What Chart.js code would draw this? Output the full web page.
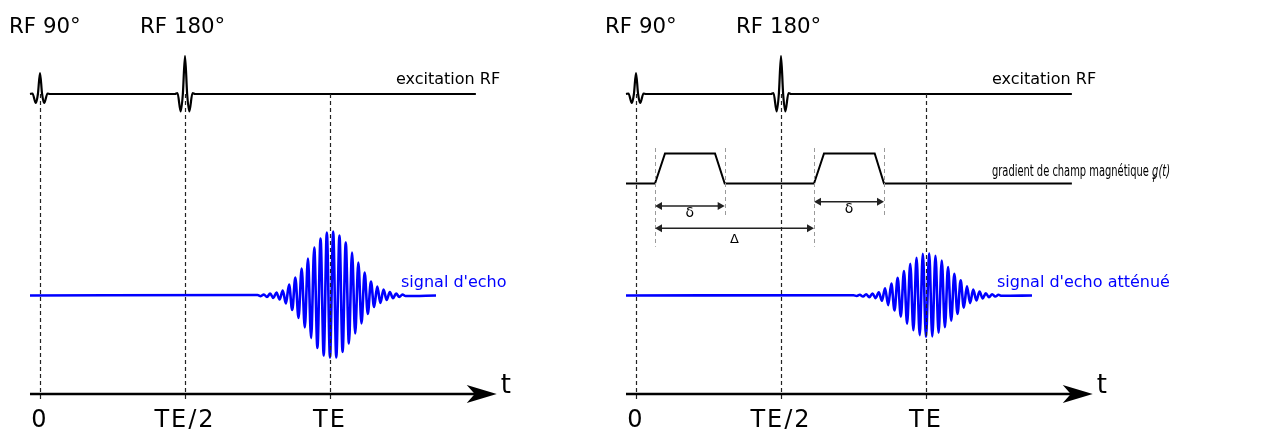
<!DOCTYPE html>
<html><head><meta charset="utf-8">
<script src="https://cdn.jsdelivr.net/npm/chart.js@4.4.1/dist/chart.umd.min.js"></script>
<style>
html,body{margin:0;padding:0;background:#fff;width:1272px;height:429px;overflow:hidden}
.panel{position:absolute;top:0;height:429px}
canvas{display:block}
</style></head><body>
<div class="panel" style="left:0;width:596px"><canvas id="c1" width="596" height="429"></canvas></div>
<div class="panel" style="left:596px;width:676px"><canvas id="c2" width="676" height="429"></canvas></div>
<script>
// ---------- data (time unit: TE = 100) ----------
const tickTimes  = [0, 50, 100];
const tickLabels = ['0', 'TE/2', 'TE'];
const pulseTimes  = [0, 50];
const pulseLabels = ['RF 90°', 'RF 180°'];

// RF excitation trace (90° then 180° pulse)
const rfTimes = [-3.45, -2.59, -1.45, -0.72, 0, 0.72, 1.45, 2.59, 3.45,
                 46.55, 47.41, 48.52, 49.26, 50, 50.74, 51.48, 52.59, 53.45, 150.3];
const rfAmp   = [0, 0.5, -9, 0, 21, 0, -9, 0.5, 0,
                 0, 1, -17.5, 0, 38, 0, -17.5, 1, 0, 0];

// echo signal: successive extrema
const echoTimes = [75.02,76.11,77.19,78.28,79.37,80.45,81.54,82.62,83.71,84.80,85.88,86.97,
                   88.05,89.14,90.23,91.31,92.40,93.48,94.57,95.66,96.74,97.83,98.91,100.00,
                   101.09,102.17,103.26,104.34,105.43,106.52,107.60,108.69,109.77,110.86,111.95,113.03,
                   114.12,115.20,116.29,117.38,118.46,119.55,120.63,121.72,122.81,123.89,124.98,126.06];
const echoAmp = [0.5,-0.7,1,-1.5,2,-2.5,3,-4,5,-8,11,-14.5,
                 18,-22.5,27,-32,37,-42.5,48,-52.5,57,-60,63,-62,
                 64,-62,60,-56.5,53,-48,43,-38,33,-28,23,-18.5,
                 14,-11.5,9,-7.5,6,-4.5,3.5,-2.7,2,-1.5,1,-0.5];
const echoAttAmp = [0.3,-0.5,0.7,-1.0,1.3,-1.7,2.0,-2.6,3.3,-5.3,7.3,-9.6,
                    11.9,-14.9,17.8,-21.1,24.4,-28.1,31.7,-34.7,37.6,-39.6,41.6,-41.5,
                    42.2,-40.9,39.6,-37.3,35.0,-31.7,28.4,-25.1,21.8,-18.5,15.2,-12.2,
                    9.2,-7.6,5.9,-5.0,4.0,-3.0,2.3,-1.8,1.3,-1.0,0.7,-0.3];
const echoLineStart = -3.45, echoLineEnd = 136.55;

// magnetic field gradient g(t): two trapezoidal lobes
const gradTimes = [-3.45, 6.55, 10, 27.24, 30.59, 61.38, 64.83, 82.31, 85.52, 150.3];
const gradLevel = [0, 0, 1, 1, 0, 0, 1, 1, 0, 0];
const smallDeltas = [[6.55, 30.59], [61.38, 85.52]];   // δ
const bigDelta = [6.55, 61.38];                         // Δ
const axisStart = -3.45, axisEnd = 157.5;

// ---------- layout ----------
const PX_PER_T = 2.9, ORIGIN_PX = 40, H = 429;
const ROW_RF = 335, ROW_GRAD = 245.5, GRAD_H = 30, ROW_ECHO = 133.5, ROW_AXIS = 35;
const BLUE = '#0000ff';
const FONT = '"DejaVu Sans", sans-serif';
const FONT_C = '"DejaVu Sans Condensed", "DejaVu Sans", sans-serif';

function text(ctx, s, x, y, size, opts = {}) {
  ctx.save();
  ctx.font = (opts.style || '') + ' ' + size + 'px ' + (opts.family || FONT);
  ctx.fillStyle = opts.color || '#000';
  ctx.textAlign = opts.align || 'left';
  ctx.textBaseline = 'alphabetic';
  if ('letterSpacing' in ctx) ctx.letterSpacing = (opts.ls || 0) + 'px';
  const sx = opts.sx || 1;
  ctx.translate(x, y); ctx.scale(sx, 1);
  ctx.fillText(s, 0, 0);
  const w = ctx.measureText(s).width * sx;
  ctx.restore();
  return w;
}
function measure(ctx, s, size, style, family) {
  ctx.save(); ctx.font = (style || '') + ' ' + size + 'px ' + (family || FONT);
  const w = ctx.measureText(s).width; ctx.restore(); return w;
}
function arrowHead(ctx, x, y, dir, len, half) {
  ctx.beginPath(); ctx.moveTo(x, y); ctx.lineTo(x - dir * len, y - half);
  ctx.lineTo(x - dir * len, y + half); ctx.closePath(); ctx.fill();
}

const diagram = {
  id: 'diagram',
  afterDatasetsDraw(chart, args, o) {
    const ctx = chart.ctx, xs = chart.scales.x, ys = chart.scales.y;
    const X = t => xs.getPixelForValue(t), Y = v => ys.getPixelForValue(v);
    ctx.save();
    // gradient edge markers + δ / Δ arrows
    if (o.gradient) {
      ctx.setLineDash([4, 3]); ctx.lineWidth = 1; ctx.strokeStyle = '#9a9a9a';
      smallDeltas.forEach(([a, b]) => {
        [[a, 182.3], [b, 212.3]].forEach(([t, bot]) => {
          const x = Math.round(X(t)) + 0.5;
          ctx.beginPath(); ctx.moveTo(x, Y(281)); ctx.lineTo(x, Y(bot)); ctx.stroke();
        });
      });
      ctx.setLineDash([]);
      ctx.strokeStyle = '#222'; ctx.fillStyle = '#222'; ctx.lineWidth = 1.6;
      const rows = [223, 227.3];
      smallDeltas.forEach(([a, b], i) => {
        const y = Y(rows[i]), x1 = X(a), x2 = X(b);
        ctx.beginPath(); ctx.moveTo(x1 + 3, y); ctx.lineTo(x2 - 3, y); ctx.stroke();
        arrowHead(ctx, x1, y, -1, 7, 4); arrowHead(ctx, x2, y, 1, 7, 4);
        text(ctx, 'δ', (x1 + x2) / 2, y + 11, 14, {align: 'center'});
      });
      const yD = Y(200.7), d1 = X(bigDelta[0]), d2 = X(bigDelta[1]);
      ctx.beginPath(); ctx.moveTo(d1 + 3, yD); ctx.lineTo(d2 - 3, yD); ctx.stroke();
      arrowHead(ctx, d1, yD, -1, 7, 4); arrowHead(ctx, d2, yD, 1, 7, 4);
      text(ctx, 'Δ', (d1 + d2) / 2, yD + 14.5, 13, {align: 'center'});
    }
    // time markers
    ctx.setLineDash([4, 3]); ctx.lineWidth = 1.2; ctx.strokeStyle = '#222';
    tickTimes.forEach(t => {
      const x = Math.round(X(t)) + 0.5;
      ctx.beginPath(); ctx.moveTo(x, Y(ROW_RF)); ctx.lineTo(x, Y(ROW_AXIS - 6)); ctx.stroke();
    });
    ctx.setLineDash([]);
    // time axis with arrow
    const ya = Y(ROW_AXIS), xa0 = X(axisStart), xa1 = X(axisEnd);
    ctx.strokeStyle = '#000'; ctx.fillStyle = '#000'; ctx.lineWidth = 2.4;
    ctx.beginPath(); ctx.moveTo(xa0, ya); ctx.lineTo(xa1 - 20, ya); ctx.stroke();
    ctx.beginPath(); ctx.moveTo(xa1, ya); ctx.lineTo(xa1 - 30, ya - 9);
    ctx.lineTo(xa1 - 22, ya); ctx.lineTo(xa1 - 30, ya + 9); ctx.closePath(); ctx.fill();
    text(ctx, 't', xa1 + 9, ya - 1, 26, {align: 'center'});
    tickTimes.forEach((t, i) => text(ctx, tickLabels[i], X(t), 427, 24, {align: 'center', ls: 2}));
    // pulse labels
    const offs = [-31, -45];
    pulseTimes.forEach((t, i) => text(ctx, pulseLabels[i], X(t) + offs[i], 33, 22, {ls: 0, sx: 0.97}));
    // trace labels
    text(ctx, 'excitation RF', 396, 84, 16);
    text(ctx, o.echoLabel, 401, 287, 16, {color: BLUE});
    if (o.gradient) {
      const main = 'gradient de champ magnétique ';
      const natural = measure(ctx, main, 16, '', FONT_C) + measure(ctx, 'g(t)', 16, 'italic', FONT_C);
      const sx = 178 / natural;
      let x = 396;
      x += text(ctx, main, x, 176, 16, {sx, family: FONT_C});
      x += text(ctx, 'g', x, 176, 16, {style: 'italic', sx, family: FONT_C});
      text(ctx, 'r', x - 6, 182, 10, {style: 'italic', family: FONT_C});
      text(ctx, '(t)', x, 176, 16, {style: 'italic', sx, family: FONT_C});
    }
    ctx.restore();
  }
};

function pts(ts, vs, base, gain) { return ts.map((t, i) => ({x: t, y: base + gain * vs[i]})); }

function makePanel(id, width, amps, label, gradient) {
  const xMin = -ORIGIN_PX / PX_PER_T;
  const datasets = [
    {data: pts(rfTimes, rfAmp, ROW_RF, 1), borderColor: '#000', borderWidth: 2.2,
     cubicInterpolationMode: 'monotone'},
    {data: [{x: echoLineStart, y: ROW_ECHO}, ...pts(echoTimes, amps, ROW_ECHO, 1), {x: echoLineEnd, y: ROW_ECHO}],
     borderColor: BLUE, borderWidth: 2.6, cubicInterpolationMode: 'monotone'}
  ];
  if (gradient) datasets.push({data: pts(gradTimes, gradLevel, ROW_GRAD, GRAD_H),
                               borderColor: '#000', borderWidth: 2, tension: 0});
  datasets.forEach(d => Object.assign(d, {pointRadius: 0, fill: false, clip: false}));
  new Chart(document.getElementById(id), {
    type: 'line',
    data: {datasets},
    plugins: [diagram],
    options: {
      responsive: false, animation: false, events: [],
      layout: {padding: 0},
      scales: {
        x: {type: 'linear', display: false, min: xMin, max: xMin + width / PX_PER_T},
        y: {type: 'linear', display: false, min: 0, max: H}
      },
      plugins: {legend: {display: false}, tooltip: {enabled: false},
                diagram: {echoLabel: label, gradient}}
    }
  });
}
makePanel('c1', 596, echoAmp, "signal d'echo", false);
makePanel('c2', 676, echoAttAmp, "signal d'echo atténué", true);
</script>
</body></html>
